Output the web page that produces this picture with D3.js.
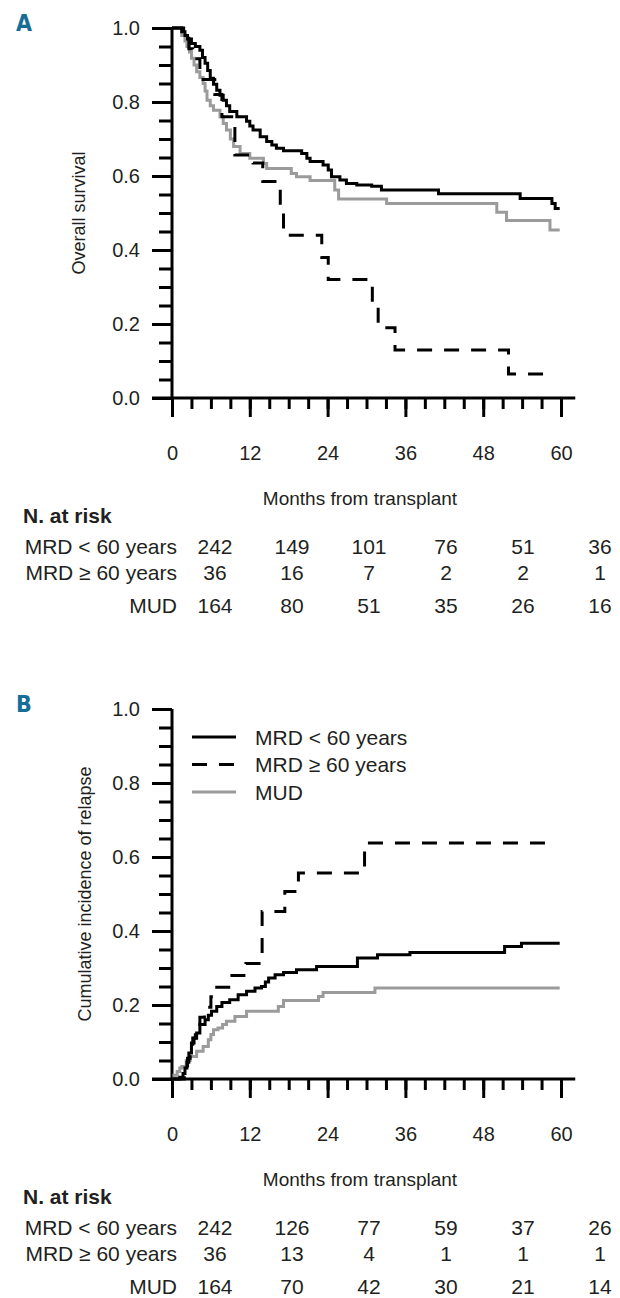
<!DOCTYPE html>
<html lang="en">
<head>
<meta charset="UTF-8">
<title>Survival and relapse by donor type</title>
<script src="https://d3js.org/d3.v7.min.js"></script>
<style>
body { margin: 0; background: #fff; }
svg { display: block; }
text { font-family: "Liberation Sans", Arial, sans-serif; fill: #231f20; }
.tick line { stroke: #000; stroke-width: 3; }
.domain { display: none; }
</style>
</head>
<body>
<script>
// step points [month, value]
const osMrdYoung = [[0,1],[1.5,0.99],[2.0,0.98],[2.4,0.97],[3.0,0.958],[3.6,0.95],[4.3,0.94],[4.7,0.92],[5.1,0.905],[5.5,0.885],[5.9,0.864],[6.4,0.848],[6.9,0.832],[7.4,0.818],[7.9,0.805],[8.4,0.79],[8.9,0.774],[10.0,0.76],[11.5,0.748],[12.0,0.735],[12.5,0.724],[13.6,0.706],[14.6,0.693],[15.4,0.684],[16.1,0.675],[17.2,0.668],[20.0,0.661],[20.8,0.648],[21.3,0.639],[23.3,0.63],[24.1,0.616],[24.6,0.598],[25.9,0.589],[26.9,0.58],[28.5,0.576],[30.8,0.572],[32.3,0.562],[41.1,0.552],[53.7,0.539],[58.6,0.526],[59.1,0.512],[59.8,0.512]];
const osMrdOld = [[0,1],[1.8,0.972],[2.6,0.944],[3.2,0.917],[4.3,0.861],[6.6,0.82],[7.7,0.76],[9.7,0.657],[12.5,0.635],[14.0,0.585],[16.7,0.51],[17.2,0.44],[23.1,0.38],[24.1,0.32],[30.9,0.245],[31.8,0.19],[34.4,0.13],[51.9,0.065],[58.1,0.065]];
const osMud = [[0,1],[1.5,0.98],[2.0,0.965],[2.3,0.95],[2.7,0.935],[3.0,0.918],[3.4,0.9],[3.8,0.882],[4.3,0.866],[4.8,0.85],[5.1,0.83],[5.4,0.805],[5.9,0.79],[6.4,0.778],[7.4,0.76],[7.9,0.742],[8.4,0.724],[9.0,0.7],[9.5,0.68],[10.5,0.661],[12.0,0.648],[14.1,0.634],[14.6,0.62],[18.4,0.607],[19.2,0.598],[21.3,0.588],[25.1,0.562],[25.7,0.538],[33.1,0.526],[50.1,0.502],[51.6,0.48],[58.3,0.454],[59.8,0.454]];

const ciMrdYoung = [[0,0],[0.5,0],[1.2,0.005],[1.7,0.015],[2.0,0.03],[2.3,0.045],[2.6,0.07],[3.0,0.097],[3.4,0.11],[3.8,0.124],[4.3,0.147],[5.1,0.16],[5.6,0.172],[6.1,0.183],[6.9,0.196],[7.7,0.207],[8.9,0.214],[10.2,0.228],[11.5,0.237],[12.8,0.246],[13.8,0.25],[14.4,0.262],[14.9,0.273],[15.9,0.282],[17.2,0.288],[19.2,0.295],[22.3,0.304],[28.6,0.327],[31.7,0.336],[36.7,0.342],[51.3,0.358],[53.9,0.367],[59.8,0.367]];
const ciMrdOld = [[0,0],[1.9,0.028],[2.4,0.056],[2.8,0.083],[3.2,0.111],[3.6,0.139],[4.3,0.167],[5.0,0.194],[6.0,0.222],[6.5,0.248],[9.0,0.28],[11.4,0.312],[13.9,0.453],[17.4,0.507],[19.5,0.557],[29.7,0.638],[58.3,0.638]];
const ciMud = [[0,0],[0.3,0.01],[0.8,0.02],[1.2,0.03],[1.5,0.034],[2.2,0.05],[2.8,0.061],[3.8,0.075],[4.8,0.088],[5.6,0.106],[6.0,0.12],[6.4,0.133],[7.1,0.138],[7.8,0.147],[8.4,0.156],[9.7,0.169],[11.5,0.183],[16.4,0.196],[17.2,0.212],[22.6,0.223],[23.3,0.234],[31.3,0.246],[59.8,0.246]];

const groups = ['MRD < 60 years', 'MRD \u2265 60 years', 'MUD'];
const riskMonths = [0, 12, 24, 36, 48, 60];
const riskA = [[242, 149, 101, 76, 51, 36], [36, 16, 7, 2, 2, 1], [164, 80, 51, 35, 26, 16]];
const riskB = [[242, 126, 77, 59, 37, 26], [36, 13, 4, 1, 1, 1], [164, 70, 42, 30, 21, 14]];
const yTicks = [0, 0.2, 0.4, 0.6, 0.8, 1.0];
const xTicks = [0, 12, 24, 36, 48, 60];

const w = 620;
const h = 1298;
const plotH = 370;
const grey = '#9b9b9b';
const dash = '15,12';

const svg = d3.select('body').append('svg').attr('width', w).attr('height', h);

const x = d3.scaleLinear().domain([0, 60]).range([172, 561]);
const riskX = d3.scaleLinear().domain([0, 60]).range([215, 600]);

function drawPanel(top, letter, yTitle, yTitleX, series, risk, legend) {
    const y = d3.scaleLinear().domain([0, 1]).range([top + plotH, top]);
    const g = svg.append('g');

    g.append('text').attr('x', 16).attr('y', top - 5).attr('dy', '0.36em')
        .style('font-family', '"DejaVu Sans Condensed", "Liberation Sans", sans-serif')
        .style('font-weight', 'bold').style('font-size', '23px').style('fill', '#176d96')
        .text(letter);

    // minor and major ticks
    g.append('g').attr('transform', 'translate(' + x(0) + ',0)')
        .call(d3.axisLeft(y).tickValues(d3.range(0, 1.001, 0.05)).tickSize(13).tickFormat(''));
    g.append('g').attr('transform', 'translate(' + x(0) + ',0)')
        .call(d3.axisLeft(y).tickValues(yTicks).tickSize(20).tickPadding(12).tickFormat(d3.format('.1f')))
        .attr('font-family', null)
        .selectAll('text').style('font-size', '20px');
    g.append('g').attr('transform', 'translate(0,' + y(0) + ')')
        .call(d3.axisBottom(x).tickValues(d3.range(0, 61, 3)).tickSize(11).tickFormat(''));
    g.append('g').attr('transform', 'translate(0,' + y(0) + ')')
        .call(d3.axisBottom(x).tickValues(xTicks).tickSize(19).tickPadding(29))
        .attr('font-family', null)
        .selectAll('text').style('font-size', '20px');

    g.append('line').attr('x1', x(0)).attr('x2', x(0)).attr('y1', y(1)).attr('y2', y(0))
        .attr('stroke', '#000').attr('stroke-width', 3);
    g.append('line').attr('x1', x(0) - 20).attr('x2', x(62.2)).attr('y1', y(0)).attr('y2', y(0))
        .attr('stroke', '#000').attr('stroke-width', 3);

    g.append('text').attr('transform', 'translate(' + yTitleX + ',' + (top + plotH / 2) + ') rotate(-90)')
        .attr('text-anchor', 'middle').attr('dy', '0.36em').style('font-size', '18px').text(yTitle);

    const line = d3.line().x((d) => x(d[0])).y((d) => y(d[1])).curve(d3.curveStepAfter);
    series.forEach((s) => {
        g.append('path').attr('d', line(s.data)).attr('fill', 'none')
            .attr('stroke', s.color).attr('stroke-width', 3)
            .attr('stroke-dasharray', s.dash);
    });

    g.append('text').attr('x', 360).attr('y', top + 470).attr('dy', '0.36em')
        .attr('text-anchor', 'middle').style('font-size', '19px').text('Months from transplant');
    g.append('text').attr('x', 23).attr('y', top + 487).attr('dy', '0.36em')
        .style('font-size', '21px').style('font-weight', 'bold').text('N. at risk');

    const rowY = [518, 544, 577];
    risk.forEach((row, i) => {
        g.append('text').attr('x', 177).attr('y', top + rowY[i]).attr('dy', '0.36em')
            .attr('text-anchor', 'end').style('font-size', '21px').text(groups[i]);
        g.selectAll(null).data(row).enter().append('text')
            .attr('x', (d, j) => riskX(riskMonths[j])).attr('y', top + rowY[i]).attr('dy', '0.36em')
            .attr('text-anchor', 'middle').style('font-size', '21px').text((d) => d);
    });

    if (legend) {
        const styles = [{color: '#000', dash: null}, {color: '#000', dash: dash}, {color: grey, dash: null}];
        groups.forEach((name, i) => {
            const ly = top + 28 + i * 27.5;
            g.append('line').attr('x1', 192).attr('x2', 236).attr('y1', ly).attr('y2', ly)
                .attr('stroke', styles[i].color).attr('stroke-width', 3).attr('stroke-dasharray', styles[i].dash);
            g.append('text').attr('x', 255).attr('y', ly).attr('dy', '0.36em')
                .style('font-size', '21px').text(name);
        });
    }
}

drawPanel(28, 'A', 'Overall survival', 79, [
    {data: osMud, color: grey, dash: null},
    {data: osMrdYoung, color: '#000', dash: null},
    {data: osMrdOld, color: '#000', dash: dash}
], riskA, false);

drawPanel(709, 'B', 'Cumulative incidence of relapse', 85, [
    {data: ciMud, color: grey, dash: null},
    {data: ciMrdYoung, color: '#000', dash: null},
    {data: ciMrdOld, color: '#000', dash: dash}
], riskB, true);
</script>
</body>
</html>
